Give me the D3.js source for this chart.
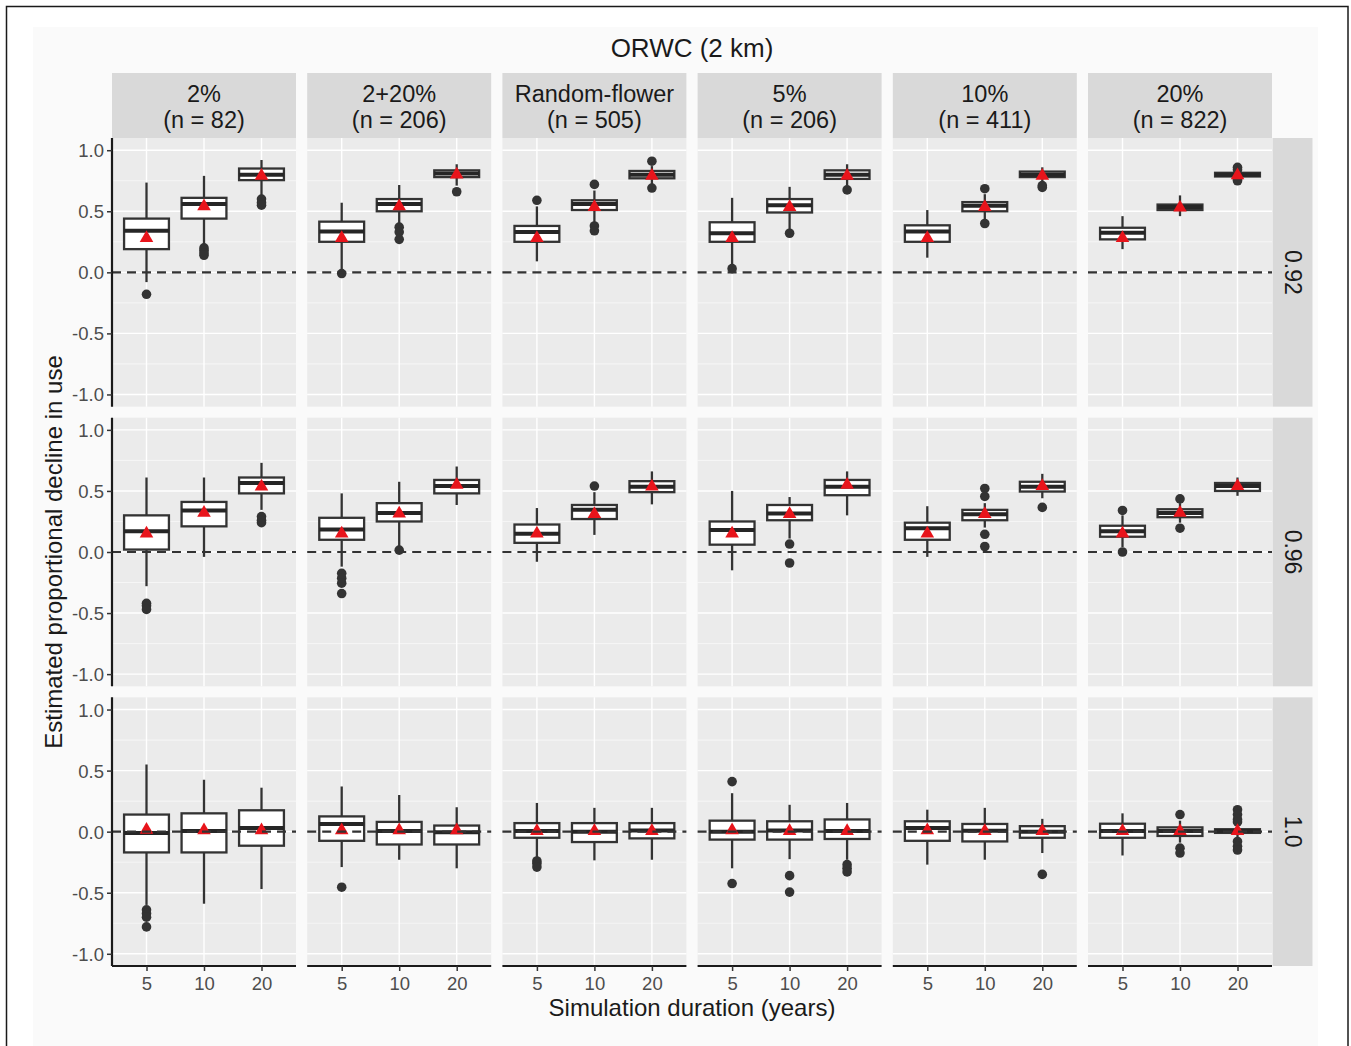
<!DOCTYPE html>
<html>
<head>
<meta charset="utf-8">
<script src="https://cdn.jsdelivr.net/npm/d3@7"></script>
<style>
  body { margin: 0; background: #fff; }
  svg { display: block; }
  text { font-family: "Liberation Sans", Arial, Helvetica, sans-serif; }
</style>
</head>
<body>
<svg id="chart" width="1351" height="1046"></svg>
<script>
// ---- data -------------------------------------------------------------
const facets = ["2%", "2+20%", "Random-flower", "5%", "10%", "20%"];
const facetN = [82, 206, 505, 206, 411, 822];
const retentionRows = ["0.92", "0.96", "1.0"];
const durations = [5, 10, 20];
const yTickValues = [-1, -0.5, 0, 0.5, 1];
const yTickLabels = ["-1.0", "-0.5", "0.0", "0.5", "1.0"];
const yMinorValues = [-0.75, -0.25, 0.25, 0.75];

// each row: facet, years, whiskerLow, q1, median, q3, whiskerHigh, mean, outliers
const stats092 = [
  ["2%", 5, -0.08, 0.19, 0.34, 0.44, 0.735, 0.28, [-0.18]],
  ["2%", 10, 0.23, 0.44, 0.56, 0.61, 0.79, 0.54, [0.2, 0.18, 0.16, 0.14]],
  ["2%", 20, 0.62, 0.755, 0.80, 0.85, 0.92, 0.79, [0.6, 0.57, 0.55]],
  ["2+20%", 5, 0.02, 0.25, 0.335, 0.415, 0.57, 0.28, [-0.01]],
  ["2+20%", 10, 0.39, 0.50, 0.56, 0.60, 0.715, 0.54, [0.37, 0.33, 0.27]],
  ["2+20%", 20, 0.71, 0.78, 0.81, 0.835, 0.885, 0.80, [0.66]],
  ["Random-flower", 5, 0.09, 0.25, 0.33, 0.38, 0.54, 0.28, [0.59]],
  ["Random-flower", 10, 0.41, 0.51, 0.56, 0.59, 0.67, 0.535, [0.72, 0.38, 0.34]],
  ["Random-flower", 20, 0.72, 0.77, 0.80, 0.83, 0.87, 0.79, [0.91, 0.69]],
  ["5%", 5, 0.05, 0.25, 0.32, 0.41, 0.61, 0.28, [0.03]],
  ["5%", 10, 0.35, 0.49, 0.55, 0.60, 0.70, 0.535, [0.32]],
  ["5%", 20, 0.71, 0.765, 0.80, 0.835, 0.885, 0.79, [0.675]],
  ["10%", 5, 0.12, 0.25, 0.335, 0.385, 0.51, 0.28, []],
  ["10%", 10, 0.435, 0.50, 0.545, 0.575, 0.64, 0.535, [0.685, 0.40]],
  ["10%", 20, 0.74, 0.78, 0.80, 0.825, 0.86, 0.79, [0.71, 0.695]],
  ["20%", 5, 0.19, 0.27, 0.325, 0.365, 0.46, 0.28, []],
  ["20%", 10, 0.46, 0.51, 0.535, 0.555, 0.63, 0.53, []],
  ["20%", 20, 0.77, 0.785, 0.80, 0.815, 0.83, 0.795, [0.86, 0.84, 0.76, 0.75]]
];

const stats096 = [
  ["2%", 5, -0.28, 0.02, 0.17, 0.30, 0.61, 0.15, [-0.42, -0.44, -0.47]],
  ["2%", 10, -0.04, 0.21, 0.34, 0.41, 0.61, 0.32, []],
  ["2%", 20, 0.345, 0.48, 0.565, 0.61, 0.73, 0.535, [0.29, 0.26, 0.24]],
  ["2+20%", 5, -0.12, 0.10, 0.185, 0.28, 0.48, 0.15, [-0.175, -0.215, -0.255, -0.34]],
  ["2+20%", 10, 0.03, 0.25, 0.32, 0.40, 0.575, 0.315, [0.015]],
  ["2+20%", 20, 0.385, 0.48, 0.54, 0.59, 0.70, 0.55, []],
  ["Random-flower", 5, -0.08, 0.075, 0.15, 0.225, 0.36, 0.15, []],
  ["Random-flower", 10, 0.14, 0.27, 0.345, 0.385, 0.49, 0.31, [0.54]],
  ["Random-flower", 20, 0.39, 0.49, 0.535, 0.58, 0.66, 0.535, []],
  ["5%", 5, -0.15, 0.06, 0.18, 0.25, 0.50, 0.15, []],
  ["5%", 10, 0.11, 0.26, 0.315, 0.385, 0.45, 0.31, [0.065, -0.09]],
  ["5%", 20, 0.30, 0.465, 0.535, 0.59, 0.66, 0.55, []],
  ["10%", 5, -0.04, 0.10, 0.195, 0.24, 0.375, 0.15, []],
  ["10%", 10, 0.20, 0.26, 0.31, 0.345, 0.40, 0.31, [0.52, 0.455, 0.145, 0.045]],
  ["10%", 20, 0.44, 0.495, 0.535, 0.575, 0.64, 0.54, [0.365]],
  ["20%", 5, 0.04, 0.125, 0.17, 0.215, 0.30, 0.15, [0.34, 0.0]],
  ["20%", 10, 0.24, 0.285, 0.32, 0.35, 0.40, 0.32, [0.435, 0.195]],
  ["20%", 20, 0.46, 0.50, 0.54, 0.565, 0.61, 0.54, []]
];

const stats100 = [
  ["2%", 5, -0.60, -0.17, -0.01, 0.14, 0.55, 0.015, [-0.64, -0.67, -0.70, -0.78]],
  ["2%", 10, -0.59, -0.17, 0.005, 0.15, 0.425, 0.01, []],
  ["2%", 20, -0.47, -0.115, 0.03, 0.175, 0.36, 0.01, []],
  ["2+20%", 5, -0.29, -0.075, 0.063, 0.125, 0.37, 0.01, [-0.455]],
  ["2+20%", 10, -0.23, -0.105, 0.005, 0.08, 0.30, 0.01, []],
  ["2+20%", 20, -0.30, -0.105, -0.005, 0.05, 0.20, 0.01, []],
  ["Random-flower", 5, -0.22, -0.05, 0.005, 0.07, 0.235, 0.005, [-0.24, -0.26, -0.29]],
  ["Random-flower", 10, -0.235, -0.085, 0.0, 0.07, 0.195, 0.005, []],
  ["Random-flower", 20, -0.23, -0.055, 0.01, 0.07, 0.195, 0.005, []],
  ["5%", 5, -0.30, -0.065, 0.0, 0.09, 0.315, 0.01, [0.41, -0.425]],
  ["5%", 10, -0.225, -0.065, 0.01, 0.085, 0.22, 0.005, [-0.36, -0.495]],
  ["5%", 20, -0.23, -0.06, 0.005, 0.10, 0.235, 0.005, [-0.27, -0.30, -0.33]],
  ["10%", 5, -0.27, -0.075, 0.03, 0.085, 0.18, 0.01, []],
  ["10%", 10, -0.23, -0.08, 0.008, 0.063, 0.195, 0.005, []],
  ["10%", 20, -0.175, -0.05, 0.0, 0.045, 0.105, 0.005, [-0.35]],
  ["20%", 5, -0.195, -0.05, 0.005, 0.065, 0.15, 0.005, []],
  ["20%", 10, -0.09, -0.035, 0.005, 0.035, 0.09, 0.005, [0.14, -0.135, -0.175]],
  ["20%", 20, -0.05, -0.01, 0.005, 0.02, 0.05, 0.005, [0.18, 0.14, 0.10, 0.08, -0.08, -0.12, -0.15]]
];

const statsByRow = { "0.92": stats092, "0.96": stats096, "1.0": stats100 };

// ---- layout -----------------------------------------------------------
const W = 1351, H = 1046;
const INK = "#333333";

const svg = d3.select("#chart");

svg.append("rect").attr("width", W).attr("height", H).attr("fill", "#ffffff");
svg.append("rect").attr("x", 33).attr("y", 27).attr("width", 1285).attr("height", 1030)
  .attr("fill", "#fafafa");
svg.append("rect").attr("x", 6.5).attr("y", 6.5).attr("width", 1341.5).attr("height", 1070)
  .attr("fill", "none").attr("stroke", "#1a1a1a").attr("stroke-width", 1.5);

const colScale = d3.scaleBand().domain(facets).range([112, 1272]).paddingInner(11.2 / 195.2);
const rowScale = d3.scaleBand().domain(retentionRows).range([138, 966]).paddingInner(11 / 280);
const xIn = d3.scalePoint().domain(durations).range([0, colScale.bandwidth()]).padding(0.6);
const yIn = d3.scaleLinear().domain([-1.1, 1.1]).range([rowScale.bandwidth(), 0]);
const boxW = xIn.step() * 0.78;
const pw = colScale.bandwidth(), ph = rowScale.bandwidth();

function label(parent, x, y, txt, size, opts = {}) {
  const rot = opts.rotate ? ` rotate(${opts.rotate})` : "";
  return parent.append("text")
    .attr("transform", `translate(${x},${y})${rot}`)
    .attr("text-anchor", opts.anchor || "middle")
    .attr("dominant-baseline", opts.baseline || "auto")
    .attr("font-size", size)
    .attr("fill", opts.fill || "#1a1a1a")
    .text(txt);
}

// title
label(svg, (112 + 1272) / 2, 57, "ORWC (2 km)", 26);

// top strips
facets.forEach((f, i) => {
  const x0 = colScale(f);
  svg.append("rect").attr("x", x0).attr("y", 73).attr("width", pw).attr("height", 65)
    .attr("fill", "#d9d9d9");
  label(svg, x0 + pw / 2, 102, f, 23.5);
  label(svg, x0 + pw / 2, 127.5, `(n = ${facetN[i]})`, 23.5);
});

// right strips
retentionRows.forEach(r => {
  const y0 = rowScale(r);
  svg.append("rect").attr("x", 1272.5).attr("y", y0).attr("width", 40).attr("height", ph)
    .attr("fill", "#d9d9d9");
  label(svg, 1293, y0 + ph / 2, r, 23, { rotate: 90, baseline: "central" });
});

const tri = d3.symbol().type(d3.symbolTriangle).size(80);

retentionRows.forEach((r, ri) => {
  facets.forEach((f, fi) => {
    const g = svg.append("g").attr("transform", `translate(${colScale(f)},${rowScale(r)})`);

    // panel background and grid
    g.append("rect").attr("width", pw).attr("height", ph).attr("fill", "#ebebeb");
    g.selectAll("line.minor").data(yMinorValues).join("line")
      .attr("x1", 0).attr("x2", pw).attr("y1", d => yIn(d)).attr("y2", d => yIn(d))
      .attr("stroke", "#fafafa").attr("stroke-width", 0.7);
    g.selectAll("line.majorY").data(yTickValues).join("line")
      .attr("x1", 0).attr("x2", pw).attr("y1", d => yIn(d)).attr("y2", d => yIn(d))
      .attr("stroke", "#ffffff").attr("stroke-width", 1.4);
    g.selectAll("line.majorX").data(durations).join("line")
      .attr("x1", d => xIn(d)).attr("x2", d => xIn(d)).attr("y1", 0).attr("y2", ph)
      .attr("stroke", "#ffffff").attr("stroke-width", 1.4);

    const rows = statsByRow[r].filter(d => d[0] === f);

    // boxplots
    const bx = g.selectAll("g.box").data(rows).join("g")
      .attr("transform", d => `translate(${xIn(d[1])},0)`);
    bx.append("line")
      .attr("y1", d => yIn(d[2])).attr("y2", d => yIn(d[6]))
      .attr("stroke", INK).attr("stroke-width", 2.3);
    bx.append("rect")
      .attr("x", -boxW / 2).attr("width", boxW)
      .attr("y", d => yIn(d[5])).attr("height", d => yIn(d[3]) - yIn(d[5]))
      .attr("fill", "#ffffff").attr("stroke", INK).attr("stroke-width", 2.3);
    bx.append("line")
      .attr("x1", -boxW / 2).attr("x2", boxW / 2)
      .attr("y1", d => yIn(d[4])).attr("y2", d => yIn(d[4]))
      .attr("stroke", "#262626").attr("stroke-width", 4);
    bx.each(function (d) {
      d3.select(this).selectAll("circle").data(d[8]).join("circle")
        .attr("cy", v => yIn(v)).attr("r", 4.8).attr("fill", INK);
    });

    // zero reference line
    g.append("line").attr("x1", 0).attr("x2", pw).attr("y1", yIn(0)).attr("y2", yIn(0))
      .attr("stroke", INK).attr("stroke-width", 2.2).attr("stroke-dasharray", "9,6");

    // means
    bx.append("path").attr("d", tri)
      .attr("transform", d => `translate(0,${yIn(d[7])})`)
      .attr("fill", "#e8141b");

    // y axis on the first column
    if (fi === 0) {
      const ax = g.append("g").call(d3.axisLeft(yIn).tickValues(yTickValues).tickSize(5)
        .tickFormat((d, i) => yTickLabels[i]));
      ax.select(".domain").attr("stroke", "#1a1a1a").attr("stroke-width", 2.2)
        .attr("d", `M0,0V${ph}`);
      ax.selectAll(".tick line").attr("stroke", INK).attr("stroke-width", 1.5);
      ax.selectAll(".tick text")
        .attr("x", -8).attr("dy", null)
        .attr("dominant-baseline", "central")
        .attr("font-size", 18.5).attr("fill", "#4d4d4d")
        .attr("font-family", null);
    }
    // x axis on the bottom row
    if (ri === retentionRows.length - 1) {
      const ax = g.append("g").attr("transform", `translate(0,${ph})`)
        .call(d3.axisBottom(xIn).tickSize(5));
      ax.select(".domain").attr("stroke", "#1a1a1a").attr("stroke-width", 2.2)
        .attr("d", `M0,0H${pw}`);
      ax.selectAll(".tick line").attr("stroke", INK).attr("stroke-width", 1.5);
      ax.selectAll(".tick text")
        .attr("y", 24).attr("dy", null)
        .attr("font-size", 18.5).attr("fill", "#4d4d4d")
        .attr("font-family", null);
    }
  });
});

// axis titles
label(svg, (112 + 1272) / 2, 1016, "Simulation duration (years)", 24);
label(svg, 62, 552, "Estimated proportional decline in use", 24, { rotate: -90 });
</script>
</body>
</html>
